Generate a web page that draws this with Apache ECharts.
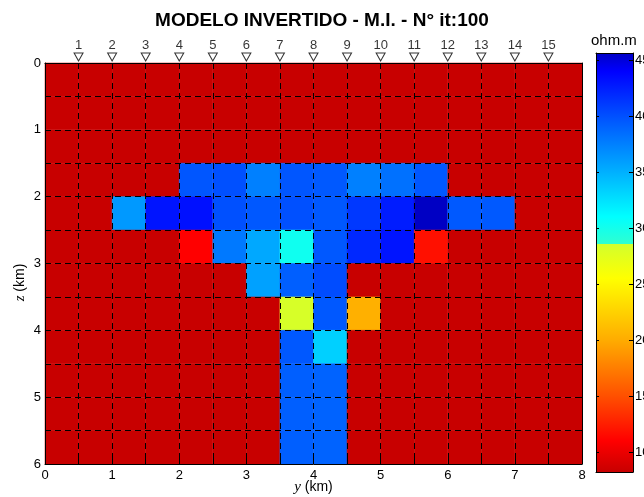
<!DOCTYPE html>
<html>
<head>
<meta charset="utf-8">
<script src="https://cdn.jsdelivr.net/npm/echarts@6/dist/echarts.min.js"></script>
<style>
  html, body { margin: 0; padding: 0; background: #fff; }
  #chart { width: 644px; height: 497px; }
</style>
</head>
<body>
<div id="chart"></div>
<script>
// Mesh cell edges (km)
const colEdges = [0, 0.5, 1, 1.5, 2, 2.5, 3, 3.5, 4, 4.5, 5, 5.5, 6, 6.5, 7, 7.5, 8];
const rowEdges = [0, 0.5, 1, 1.5, 2, 2.5, 3, 3.5, 4, 4.5, 5, 5.5, 6];

// Background resistivity (ohm.m)
const B = 8.21;

// Inverted resistivity model, one row per depth layer (ohm.m)
const row00 = [B, B, B, B, B, B, B, B, B, B, B, B, B, B, B, B];
const row01 = [B, B, B, B, B, B, B, B, B, B, B, B, B, B, B, B];
const row02 = [B, B, B, B, B, B, B, B, B, B, B, B, B, B, B, B];
const row03 = [B, B, B, B, 39.7, 40.0, 37.5, 39.7, 39.5, 37.5, 38.3, 39.6, B, B, B, B];
const row04 = [B, B, 36.2, 43.0, 43.2, 40.0, 39.6, 40.0, 39.6, 41.2, 42.6, 45.63, 39.5, 39.5, B, B];
const row05 = [B, B, B, B, 11.0, 37.9, 35.4, 30.2, 39.6, 42.0, 43.0, 11.8, B, B, B, B];
const row06 = [B, B, B, B, B, B, 35.8, 39.2, 40.2, B, B, B, B, B, B, B];
const row07 = [B, B, B, B, B, B, B, 28.2, 39.6, 20.3, B, B, B, B, B, B];
const row08 = [B, B, B, B, B, B, B, 39.6, 33.4, B, B, B, B, B, B, B];
const row09 = [B, B, B, B, B, B, B, 39.2, 39.0, B, B, B, B, B, B, B];
const row10 = [B, B, B, B, B, B, B, 39.2, 39.0, B, B, B, B, B, B, B];
const row11 = [B, B, B, B, B, B, B, 39.2, 39.0, B, B, B, B, B, B, B];
const resistivity = [row00, row01, row02, row03, row04, row05, row06, row07, row08, row09, row10, row11];

// Stations along the profile
const stationX = [0.5, 1, 1.5, 2, 2.5, 3, 3.5, 4, 4.5, 5, 5.5, 6, 6.5, 7, 7.5];
const stationNames = ['1', '2', '3', '4', '5', '6', '7', '8', '9', '10', '11', '12', '13', '14', '15'];

// Colour scale
const colorbarRange = [8.21, 45.63];
const colorbarTicks = [10, 15, 20, 25, 30, 35, 40, 45];
const colorStopValues = [8.21, 11.0, 15.0, 20.0, 25.5, 28.59, 28.61, 31.0, 35.0, 40.0, 44.0, 45.63];
const colorStopColors = ['#c80000', '#ff0000', '#ff5000', '#ffac00', '#ffff00', '#d2ff2d',
                         '#2effd1', '#00ffff', '#00b0ff', '#0050ff', '#0000ff', '#0000c4'];

const FONT = '"Liberation Sans", Arial, Helvetica, sans-serif';
const SERIF = '"Liberation Serif", "Times New Roman", serif';

function hexRgb(h) {
  return [parseInt(h.slice(1, 3), 16), parseInt(h.slice(3, 5), 16), parseInt(h.slice(5, 7), 16)];
}
function colorAt(v) {
  if (v <= colorStopValues[0]) return colorStopColors[0];
  for (let i = 1; i < colorStopValues.length; i++) {
    if (v <= colorStopValues[i]) {
      const t = (v - colorStopValues[i - 1]) / (colorStopValues[i] - colorStopValues[i - 1]);
      const a = hexRgb(colorStopColors[i - 1]), b = hexRgb(colorStopColors[i]);
      return 'rgb(' + a.map((c, k) => Math.round(c + (b[k] - c) * t)).join(',') + ')';
    }
  }
  return colorStopColors[colorStopColors.length - 1];
}
// dense colour list for the visual map
const paletteSize = 1200;
const palette = [];
for (let i = 0; i < paletteSize; i++) {
  palette.push(colorAt(colorbarRange[0] + (colorbarRange[1] - colorbarRange[0]) * i / (paletteSize - 1)));
}
// gradient stops for the colour bar
const barStops = colorStopValues.map((v, i) => ({
  offset: (v - colorbarRange[0]) / (colorbarRange[1] - colorbarRange[0]),
  color: colorStopColors[i]
}));

const cells = [];
resistivity.forEach((row, r) => {
  row.forEach((v, c) => {
    cells.push([colEdges[c], rowEdges[r], colEdges[c + 1], rowEdges[r + 1], v]);
  });
});

const halfLabel = v => (Math.abs(v - Math.round(v)) < 1e-9 ? String(Math.round(v)) : '');

const chart = echarts.init(document.getElementById('chart'), null, { renderer: 'canvas' });

chart.setOption({
  animation: false,
  backgroundColor: '#fff',
  title: [
    {
      text: 'MODELO INVERTIDO - M.I. - N\u00b0 it:100',
      left: 'center', top: 11, padding: 0,
      textStyle: { fontSize: 19, fontWeight: 'bold', color: '#000', fontFamily: FONT }
    },
    {
      text: 'ohm.m',
      left: 591, top: 33, padding: 0,
      textStyle: { fontSize: 15, fontWeight: 'normal', color: '#000', fontFamily: FONT }
    }
  ],
  grid: [
    { left: 45, top: 63, width: 537, height: 401, containLabel: false, outerBoundsMode: 'none' },
    { left: 596, top: 53, width: 37, height: 419, containLabel: false, outerBoundsMode: 'none' }
  ],
  visualMap: {
    type: 'continuous', show: false, seriesIndex: 0, dimension: 4,
    min: colorbarRange[0], max: colorbarRange[1],
    inRange: { color: palette }
  },
  xAxis: [
    {
      gridIndex: 0, type: 'value', min: 0, max: 8, interval: 0.5, position: 'bottom', z: 10,
      axisLine: { show: true, onZero: false, lineStyle: { color: '#000', width: 1 } },
      axisTick: { show: true, inside: true, length: 5, lineStyle: { color: '#000' } },
      axisLabel: { formatter: halfLabel, color: '#000', fontSize: 13, margin: 5, fontFamily: FONT, hideOverlap: false },
      splitLine: { show: true, lineStyle: { color: '#000', width: 1, type: [6, 4] } },
      name: '{i|y} (km)', nameLocation: 'middle', nameGap: 16, nameMoveOverlap: false,
      nameTextStyle: {
        fontSize: 14, color: '#000', fontFamily: FONT,
        rich: { i: { fontStyle: 'italic', fontFamily: SERIF, fontSize: 15, color: '#000' } }
      }
    },
    {
      gridIndex: 0, type: 'value', min: 0, max: 8, interval: 0.5, position: 'top', z: 10,
      axisLine: { show: true, onZero: false, lineStyle: { color: '#000', width: 1 } },
      axisTick: { show: true, inside: true, length: 5, lineStyle: { color: '#000' } },
      axisLabel: { show: false }, splitLine: { show: false }
    },
    {
      gridIndex: 1, type: 'value', min: 0, max: 1, position: 'bottom', z: 10,
      axisLine: { show: true, onZero: false, lineStyle: { color: '#000', width: 1 } },
      axisTick: { show: false }, axisLabel: { show: false }, splitLine: { show: false }
    },
    {
      gridIndex: 1, type: 'value', min: 0, max: 1, position: 'top', z: 10,
      axisLine: { show: true, onZero: false, lineStyle: { color: '#000', width: 1 } },
      axisTick: { show: false }, axisLabel: { show: false }, splitLine: { show: false }
    }
  ],
  yAxis: [
    {
      gridIndex: 0, type: 'value', min: 0, max: 6, interval: 0.5, inverse: true, position: 'left', z: 10,
      axisLine: { show: true, onZero: false, lineStyle: { color: '#000', width: 1 } },
      axisTick: { show: true, inside: true, length: 5, lineStyle: { color: '#000' } },
      axisLabel: { formatter: halfLabel, color: '#000', fontSize: 13, margin: 4, fontFamily: FONT, hideOverlap: false },
      splitLine: { show: true, lineStyle: { color: '#000', width: 1, type: [6, 4] } },
      name: '{i|z} (km)', nameLocation: 'middle', nameGap: 17, nameMoveOverlap: false,
      nameTextStyle: {
        fontSize: 14, color: '#000', fontFamily: FONT, padding: [0, 38, 0, 0],
        rich: { i: { fontStyle: 'italic', fontFamily: SERIF, fontSize: 15, color: '#000' } }
      }
    },
    {
      gridIndex: 0, type: 'value', min: 0, max: 6, interval: 0.5, inverse: true, position: 'right', z: 10,
      axisLine: { show: true, onZero: false, lineStyle: { color: '#000', width: 1 } },
      axisTick: { show: true, inside: true, length: 5, lineStyle: { color: '#000' } },
      axisLabel: { show: false }, splitLine: { show: false }
    },
    {
      gridIndex: 1, type: 'value', min: colorbarRange[0], max: colorbarRange[1], position: 'left', z: 10,
      axisLine: { show: true, onZero: false, lineStyle: { color: '#000', width: 1 } },
      axisTick: { show: true, inside: true, length: 3, customValues: colorbarTicks, lineStyle: { color: '#000' } },
      axisLabel: { show: false }, splitLine: { show: false }
    },
    {
      gridIndex: 1, type: 'value', min: colorbarRange[0], max: colorbarRange[1], position: 'right', z: 10,
      axisLine: { show: true, onZero: false, lineStyle: { color: '#000', width: 1 } },
      axisTick: { show: true, inside: true, length: 4, customValues: colorbarTicks, lineStyle: { color: '#000' } },
      axisLabel: { show: true, customValues: colorbarTicks, color: '#000', fontSize: 13, margin: 2, fontFamily: FONT },
      splitLine: { show: false }
    }
  ],
  series: [
    {
      type: 'custom', name: 'resistivity', xAxisIndex: 0, yAxisIndex: 0, z: 2,
      data: cells,
      encode: { x: [0, 2], y: [1, 3] },
      renderItem: function (params, api) {
        const a = api.coord([api.value(0), api.value(1)]);
        const b = api.coord([api.value(2), api.value(3)]);
        const col = api.visual('color');
        return {
          type: 'rect',
          shape: {
            x: Math.min(a[0], b[0]), y: Math.min(a[1], b[1]),
            width: Math.abs(b[0] - a[0]), height: Math.abs(b[1] - a[1])
          },
          style: { fill: col, stroke: col, lineWidth: 0.5 }
        };
      }
    },
    {
      type: 'custom', name: 'colorbar', xAxisIndex: 2, yAxisIndex: 2, z: 2,
      data: [[0, colorbarRange[0], 1, colorbarRange[1]]],
      encode: { x: [0, 2], y: [1, 3] },
      renderItem: function (params, api) {
        const a = api.coord([api.value(0), api.value(1)]);
        const b = api.coord([api.value(2), api.value(3)]);
        return {
          type: 'rect',
          shape: {
            x: Math.min(a[0], b[0]), y: Math.min(a[1], b[1]),
            width: Math.abs(b[0] - a[0]), height: Math.abs(b[1] - a[1])
          },
          style: {
            fill: { type: 'linear', x: 0, y: 1, x2: 0, y2: 0, colorStops: barStops }
          }
        };
      }
    },
    {
      type: 'scatter', name: 'stations', xAxisIndex: 0, yAxisIndex: 0, z: 20, clip: false, silent: true,
      data: stationX.map((x, i) => ({ value: [x, 0], name: stationNames[i] })),
      symbol: 'triangle', symbolRotate: 180, symbolSize: [9, 8], symbolOffset: [0, -6],
      itemStyle: { color: '#fff', borderColor: '#000', borderWidth: 1 },
      label: {
        show: true, position: 'top', distance: 1, formatter: p => p.name,
        color: '#000', fontSize: 13, fontFamily: FONT
      }
    }
  ]
});
</script>
</body>
</html>
